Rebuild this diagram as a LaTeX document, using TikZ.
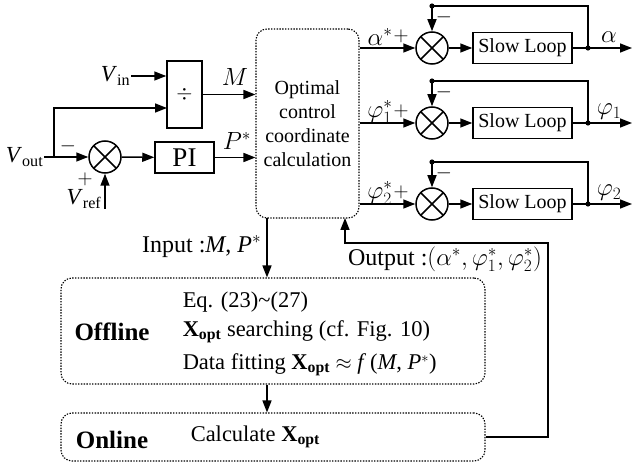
\documentclass[tikz,border=0pt]{standalone}
\usepackage{amsmath}
\usepackage{fontspec}
\setmainfont{Liberation Serif}
\usetikzlibrary{arrows.meta}
\newcommand\fsmain{\fontsize{20}{24}\selectfont}
\newcommand\fslow{\fontsize{22.5}{26}\selectfont}
\newcommand\Xopt{\textbf{X}$_{\textbf{opt}}$}
\tikzset{
  blk/.style={draw, line width=1.5pt, inner sep=0pt, font=\fsmain},
  dotbox/.style={draw, line width=1.1pt, dash pattern=on 1.4pt off 1.4pt, rounded corners=11pt, inner sep=0pt},
  sumnode/.style={draw, circle, line width=1.5pt, minimum size=32pt, inner sep=0pt,
    path picture={\draw[line width=1.5pt] (path picture bounding box.north west) -- (path picture bounding box.south east)
      (path picture bounding box.north east) -- (path picture bounding box.south west);}},
  lbl/.style={inner sep=0pt, font=\fsmain},
  sgn/.style={inner sep=0pt, font=\fsmain},
}
\begin{document}
\begin{tikzpicture}[x=1pt, y=-1pt, line width=1.5pt, >={Triangle[length=12pt,width=9pt]}]
\useasboundingbox (0,0) rectangle (633,468);

% ---------- input stage ----------
\node[blk, minimum width=35pt, minimum height=67pt] (div) at (184.5,94.5) {$\div$};
\node[blk, minimum width=59pt, minimum height=31pt, font=\fontsize{27}{28}\selectfont] (pi) at (184.5,157.5) {PI};
\node[sumnode] (s0) at (105,157) {};
\node[dotbox, minimum width=103pt, minimum height=189pt, align=center, font=\fsmain] (opt) at (307.5,123.5)
  {Optimal\\control\\coordinate\\calculation};

\node[lbl, anchor=east, font=\fontsize{23}{24}\selectfont] (vin) at (131,76) {\textit{V}$_{\text{in}}$};
\node[lbl, anchor=east, font=\fontsize{23}{24}\selectfont] (vout) at (44,157) {\textit{V}$_{\text{out}}$};
\node[lbl, font=\fontsize{23}{24}\selectfont] (vref) at (84,199) {\textit{V}$_{\text{ref}}$};
\coordinate (j0) at (54,157);
\coordinate (d2) at (167,108);
\coordinate (vr) at (105,209);

\draw[->] (vin.east) -- (div.west |- vin.east);
\draw[->] (vout.east) -- (s0);
\draw[->] (j0) |- (d2);
\draw[->] (vr) -- (s0);
\draw[->] (s0) -- (pi);
\draw[->] (div.east) -- (opt.west |- div.east);
\draw[->] (pi) -- (opt.west |- pi);

\node[sgn] (m0) at (68,146) {$-$};
\node[sgn] (p0) at (85,179) {$+$};
\node[lbl] (lm) at (235,77) {\fontsize{23}{26}\selectfont$M$};
\node[lbl] (lp) at (237,141) {\fontsize{27}{28}\selectfont$P^*$};

% ---------- slow loops ----------
\foreach \r/\yy/\lin/\lout in {1/48/{$\alpha^*$}/{$\alpha$}, 2/123/{$\varphi_1^*$}/{$\varphi_1$}, 3/204/{$\varphi_2^*$}/{$\varphi_2$}} {
  \node[sumnode] (s\r) at (432,\yy) {};
  \node[blk, minimum width=99pt, minimum height=31pt] (sl\r) at (522.5,\yy) {Slow Loop};
  \coordinate (o\r) at (632,\yy);
  \coordinate (t\r) at (588,\yy);
  \coordinate (f\r) at (588,{\yy-42});
  \coordinate (k\r) at (432,{\yy-42});
  \draw[->] (opt.east |- s\r) -- (s\r);
  \draw[->] (s\r) -- (sl\r);
  \draw[->] (sl\r) -- (o\r);
  \draw[->] (t\r) -- (f\r) -| (s\r);
  \fill (t\r) circle (2.6pt);
  \fill (k\r) circle (2.6pt);
  \node[lbl] (a\r) at (380,{\yy-11}) {\fontsize{25}{26}\selectfont\lin};
  \node[sgn, font=\fontsize{22}{24}\selectfont] (ps\r) at (401,{\yy-12}) {$+$};
  \node[lbl] (b\r) at (609,{\yy-11}) {\fontsize{25}{26}\selectfont\lout};
  \node[sgn] (ms\r) at (444,{\yy-31}) {$-$};
}

% ---------- offline / online ----------
\node[dotbox, minimum width=424pt, minimum height=106pt] (off) at (273,331) {};
\node[dotbox, minimum width=424pt, minimum height=48pt] (on) at (273,437) {};
\coordinate (ia) at (267,218);
\coordinate (fbx) at (548,243);
\coordinate (fba) at (345,218);

\draw[->] (ia) -- (ia |- off.north);
\draw[->] (ia |- off.south) -- (ia |- on.north);
\draw[->] (on.east) -| (fbx) -| (fba);

\node[lbl, anchor=east, font=\fontsize{24}{26}\selectfont] (lin) at (262,247) {Input :\textit{M}, \textit{P}$^*$};
\node[lbl, font=\fontsize{24}{26}\selectfont] (lout) at (445,259) {Output :$(\alpha^*,\varphi_1^*,\varphi_2^*)$};

\node[lbl, font=\fontsize{25}{26}\selectfont\bfseries] (toff) at (112,332) {Offline};
\node[lbl, anchor=west, font=\fslow] (e1) at (182,302) {Eq. (23)\textasciitilde(27)};
\node[lbl, anchor=west, font=\fslow] (e2) at (182,332) {\Xopt{} searching (cf. Fig. 10)};
\node[lbl, anchor=west, font=\fslow] (e3) at (182,365) {Data fitting \Xopt{} $\approx$ \textit{f}\,(\textit{M}, \textit{P}$^*$)};

\node[lbl, font=\fontsize{25}{26}\selectfont\bfseries] (ton) at (112,440) {Online};
\node[lbl, anchor=west, font=\fslow] (e4) at (190,437) {Calculate \Xopt};
\end{tikzpicture}
\end{document}
